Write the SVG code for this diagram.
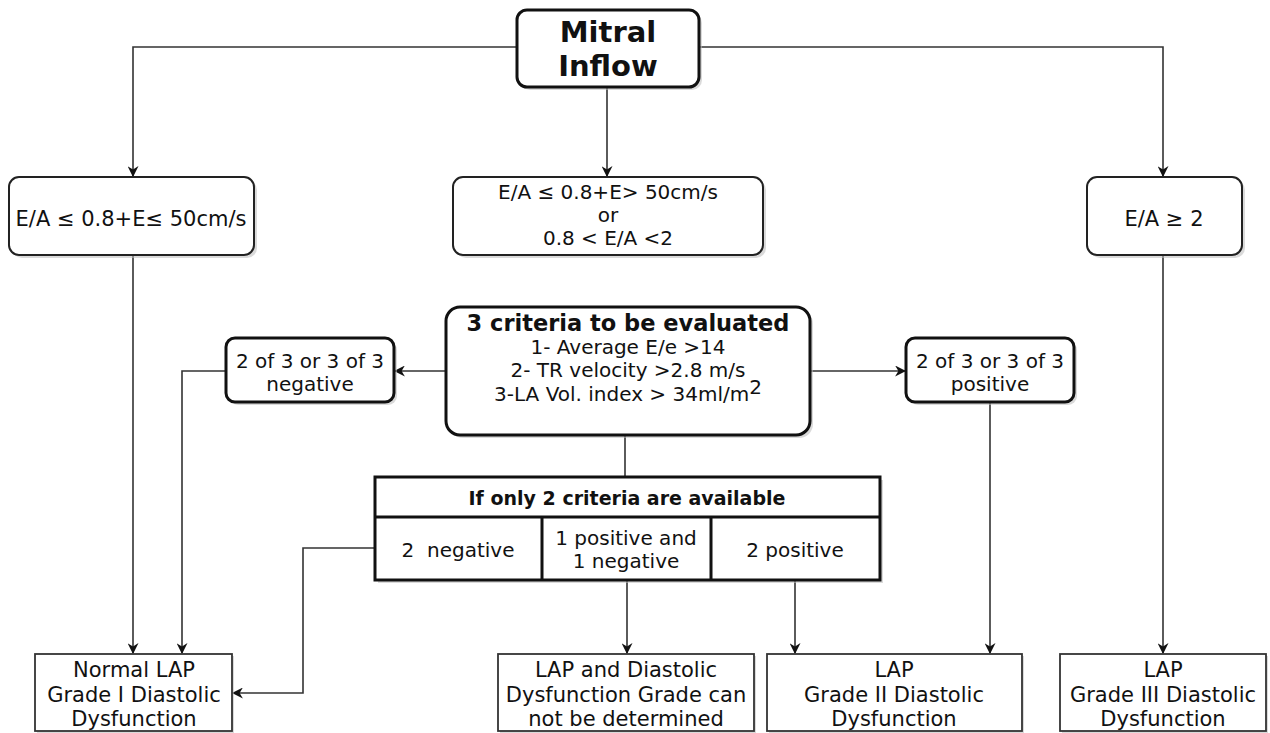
<svg xmlns="http://www.w3.org/2000/svg" width="1270" height="733" viewBox="0 0 1270 733">
<style>
text{font-family:"DejaVu Sans",Verdana,sans-serif;fill:#111;text-anchor:middle}
.t21{font-size:21px}
.t20{font-size:20px}
.b{font-weight:bold}
.rb{fill:#fff;stroke:#222;stroke-width:2}
.rbt{fill:#fff;stroke:#111;stroke-width:3}
.sq{fill:#fff;stroke:#333;stroke-width:1.8}
.tbl{fill:#fff;stroke:#111;stroke-width:3}
.sh{fill:#bbb;opacity:.55}
.c{fill:none;stroke:#333;stroke-width:1.6}
</style>
<defs>
<marker id="ar" viewBox="0 0 10 10" refX="9" refY="5" markerWidth="11" markerHeight="11" markerUnits="userSpaceOnUse" orient="auto">
<path d="M0,0 L10,5 L0,10 L3,5 Z" fill="#111"/>
</marker>
</defs>
<g id="connectors">
<path class="c" d="M517,47 H133 V176" marker-end="url(#ar)"/>
<path class="c" d="M607,88 V176" marker-end="url(#ar)"/>
<path class="c" d="M699,47 H1163 V176" marker-end="url(#ar)"/>
<path class="c" d="M133,255 V653" marker-end="url(#ar)"/>
<path class="c" d="M446,371 H395" marker-end="url(#ar)"/>
<path class="c" d="M226,371 H182 V653" marker-end="url(#ar)"/>
<path class="c" d="M810,371 H905" marker-end="url(#ar)"/>
<path class="c" d="M990,402 V653" marker-end="url(#ar)"/>
<path class="c" d="M625,435 V477"/>
<path class="c" d="M375,548 H303 V693 H233" marker-end="url(#ar)"/>
<path class="c" d="M627,580 V653" marker-end="url(#ar)"/>
<path class="c" d="M795,580 V653" marker-end="url(#ar)"/>
<path class="c" d="M1163,255 V653" marker-end="url(#ar)"/>
</g>
<g id="mitral">
<rect class="sh" x="520" y="13" width="182" height="77" rx="10"/>
<rect class="rbt" x="517" y="10" width="182" height="77" rx="10"/>
<text class="b" style="font-size:29px" x="608" y="42">Mitral</text>
<text class="b" style="font-size:29px" x="608" y="76">Inflow</text>
</g>
<g id="ea-low">
<rect class="sh" x="12" y="180" width="245" height="78" rx="10"/>
<rect class="rb" x="9" y="177" width="245" height="78" rx="10"/>
<text class="t21" x="131" y="226">E/A ≤ 0.8+E≤ 50cm/s</text>
</g>
<g id="ea-mid">
<rect class="sh" x="456" y="180" width="310" height="78" rx="10"/>
<rect class="rb" x="453" y="177" width="310" height="78" rx="10"/>
<text class="t20" x="608" y="199">E/A ≤ 0.8+E&gt; 50cm/s</text>
<text class="t20" x="608" y="222">or</text>
<text class="t20" x="608" y="245">0.8 &lt; E/A &lt;2</text>
</g>
<g id="ea-high">
<rect class="sh" x="1090" y="180" width="155" height="78" rx="10"/>
<rect class="rb" x="1087" y="177" width="155" height="78" rx="10"/>
<text class="t21" x="1164" y="226">E/A ≥ 2</text>
</g>
<g id="negative">
<rect class="sh" x="229" y="341" width="168" height="64" rx="9"/>
<rect class="rbt" x="226" y="338" width="168" height="64" rx="9"/>
<text class="t20" x="310" y="368">2 of 3 or 3 of 3</text>
<text class="t20" x="310" y="391">negative</text>
</g>
<g id="criteria">
<rect class="sh" x="449" y="310" width="364" height="128" rx="14"/>
<rect class="rbt" x="446" y="307" width="364" height="128" rx="14"/>
<text class="b" style="font-size:22.5px" x="628" y="331">3 criteria to be evaluated</text>
<text class="t20" x="628" y="354">1- Average E/e &gt;14</text>
<text class="t20" x="628" y="377">2- TR velocity &gt;2.8 m/s</text>
<text class="t20" x="628" y="401">3-LA Vol. index &gt; 34ml/m<tspan dy="-7" style="font-size:20px">2</tspan></text>
</g>
<g id="positive">
<rect class="sh" x="909" y="341" width="168" height="64" rx="9"/>
<rect class="rbt" x="906" y="338" width="168" height="64" rx="9"/>
<text class="t20" x="990" y="368">2 of 3 or 3 of 3</text>
<text class="t20" x="990" y="391">positive</text>
</g>
<g id="table">
<rect class="sh" x="378" y="480" width="505" height="103"/>
<rect class="tbl" x="375" y="477" width="505" height="103"/>
<path d="M375,517 H880 M542,517 V580 M711,517 V580" stroke="#111" stroke-width="3" fill="none"/>
<text class="b" style="font-size:19px" x="627" y="505">If only 2 criteria are available</text>
<text class="t20" x="458" y="557" xml:space="preserve">2  negative</text>
<text class="t20" x="626" y="545">1 positive and</text>
<text class="t20" x="626" y="568">1 negative</text>
<text class="t20" x="795" y="557">2 positive</text>
</g>
<g id="grade1">
<rect class="sh" x="37" y="656" width="197" height="77"/>
<rect class="sq" x="35" y="654" width="197" height="77"/>
<text class="t21" x="134" y="677">Normal LAP</text>
<text class="t21" x="134" y="702">Grade I Diastolic</text>
<text class="t21" x="134" y="726">Dysfunction</text>
</g>
<g id="undetermined">
<rect class="sh" x="500" y="656" width="256" height="77"/>
<rect class="sq" x="498" y="654" width="256" height="77"/>
<text class="t21" x="626" y="677">LAP and Diastolic</text>
<text class="t21" x="626" y="702">Dysfunction Grade can</text>
<text class="t21" x="626" y="726">not be determined</text>
</g>
<g id="grade2">
<rect class="sh" x="769" y="656" width="255" height="77"/>
<rect class="sq" x="767" y="654" width="255" height="77"/>
<text class="t21" x="894" y="677">LAP</text>
<text class="t21" x="894" y="702">Grade II Diastolic</text>
<text class="t21" x="894" y="726">Dysfunction</text>
</g>
<g id="grade3">
<rect class="sh" x="1062" y="656" width="206" height="77"/>
<rect class="sq" x="1060" y="654" width="206" height="77"/>
<text class="t21" x="1163" y="677">LAP</text>
<text class="t21" x="1163" y="702">Grade III Diastolic</text>
<text class="t21" x="1163" y="726">Dysfunction</text>
</g>
</svg>
